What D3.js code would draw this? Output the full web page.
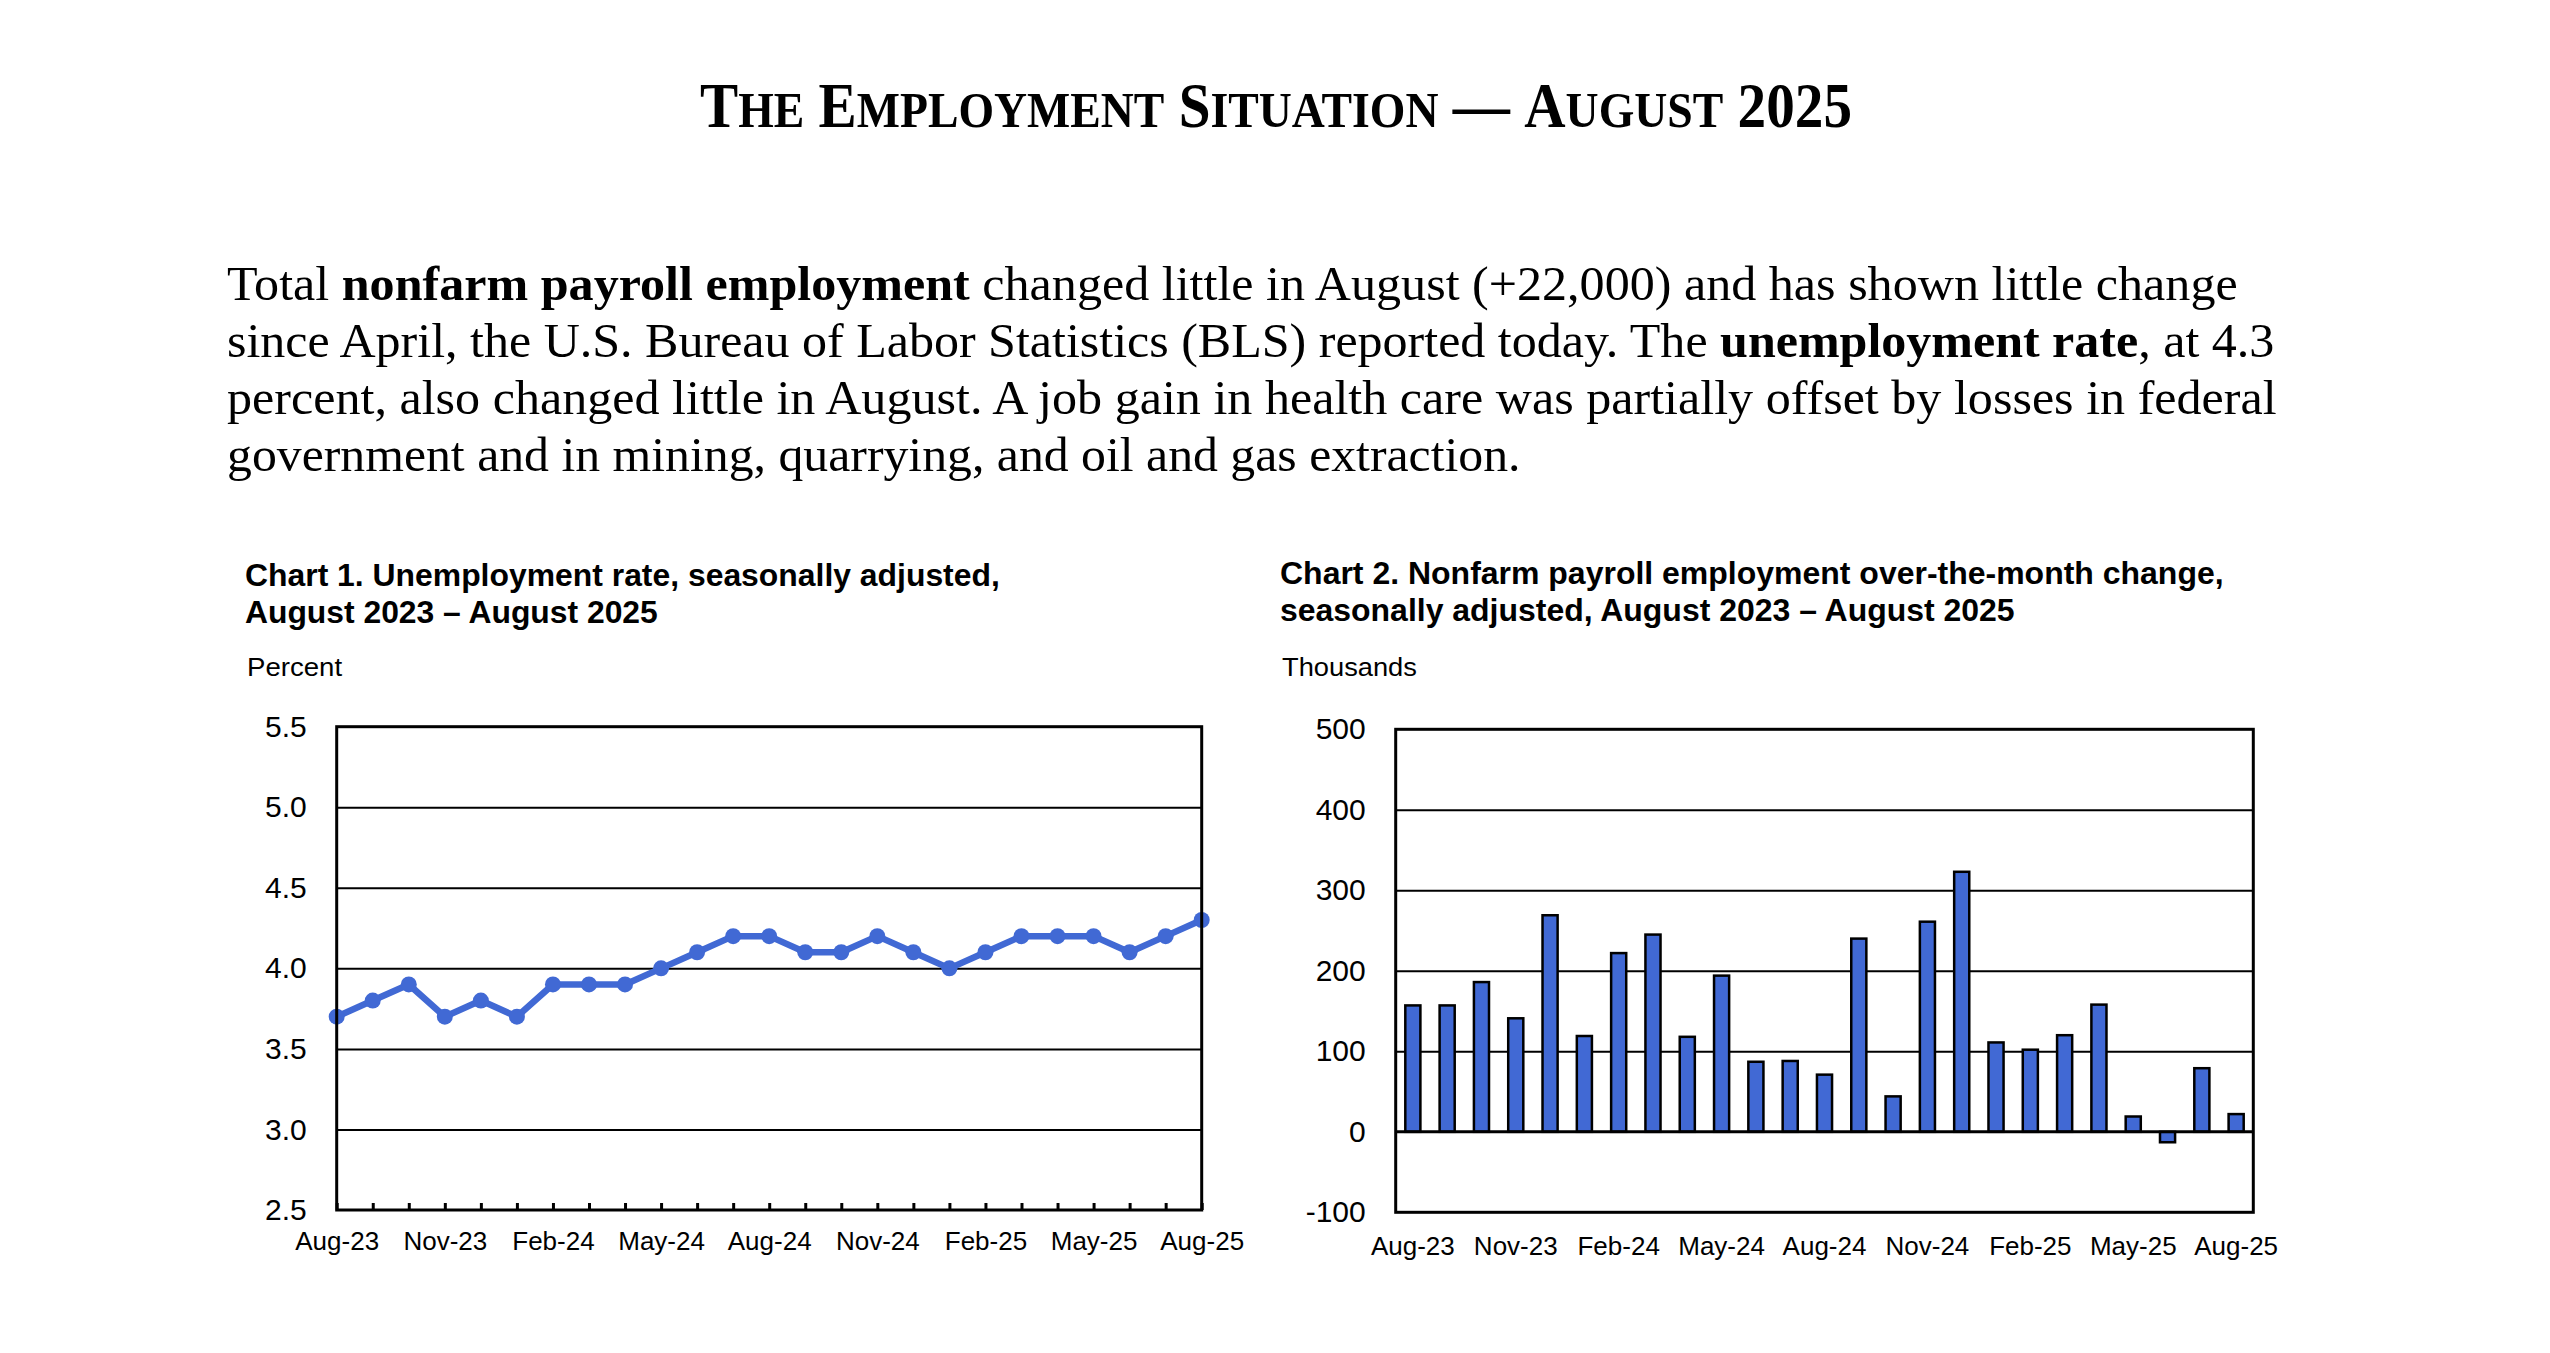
<!DOCTYPE html>
<html>
<head>
<meta charset="utf-8">
<script src="https://cdn.jsdelivr.net/npm/d3@7"></script>
<style>
  html, body { margin: 0; padding: 0; background: #fff; }
  svg { display: block; }
</style>
</head>
<body>
<script>
// ---------------- DATA ----------------
const months = ["Aug-23","Sep-23","Oct-23","Nov-23","Dec-23","Jan-24","Feb-24","Mar-24","Apr-24",
  "May-24","Jun-24","Jul-24","Aug-24","Sep-24","Oct-24","Nov-24","Dec-24","Jan-25","Feb-25",
  "Mar-25","Apr-25","May-25","Jun-25","Jul-25","Aug-25"];
const xTickLabels = ["Aug-23","Nov-23","Feb-24","May-24","Aug-24","Nov-24","Feb-25","May-25","Aug-25"];
const unemploymentRate = [3.7,3.8,3.9,3.7,3.8,3.7,3.9,3.9,3.9,4.0,4.1,4.2,4.2,4.1,4.1,4.2,4.1,4.0,4.1,4.2,4.2,4.2,4.1,4.2,4.3];
const payrollChange = [157,157,186,141,269,119,222,245,118,194,87,88,71,240,44,261,323,111,102,120,158,19,-13,79,22];
const rateTicks = [2.5,3.0,3.5,4.0,4.5,5.0,5.5];
const payrollTicks = [-100,0,100,200,300,400,500];

const pageTitle = "The Employment Situation — August 2025";
const paragraphLines = [
  [["Total ", false], ["nonfarm payroll employment", true], [" changed little in August (+22,000) and has shown little change", false]],
  [["since April, the U.S. Bureau of Labor Statistics (BLS) reported today. The ", false], ["unemployment rate", true], [", at 4.3", false]],
  [["percent, also changed little in August. A job gain in health care was partially offset by losses in federal", false]],
  [["government and in mining, quarrying, and oil and gas extraction.", false]]
];
const chart1Title = ["Chart 1. Unemployment rate, seasonally adjusted,", "August 2023 – August 2025"];
const chart2Title = ["Chart 2. Nonfarm payroll employment over-the-month change,", "seasonally adjusted, August 2023 – August 2025"];
const chart1Unit = "Percent";
const chart2Unit = "Thousands";

// ---------------- SETUP ----------------
const W = 2550, H = 1353;
const BLUE = "#4169d4";
const SANS = "Arial, 'Liberation Sans', sans-serif";
const SERIF = "'Liberation Serif', 'Times New Roman', serif";
const svg = d3.select("body").append("svg").attr("width", W).attr("height", H);
svg.append("rect").attr("width", W).attr("height", H).attr("fill", "#fff");

// helper: place text and scale horizontally to a target width
function fitText(g, x, y, targetW) {
  const w = g.node().getBBox().width;
  const sx = targetW ? targetW / w : 1;
  g.attr("transform", `translate(${x},${y}) scale(${sx},1)`);
}

// ---------------- TITLE (manual small caps) ----------------
const TITLE_FS = 64;
const title = svg.append("text")
  .attr("font-family", SERIF).attr("font-weight", "bold").attr("font-size", TITLE_FS);
pageTitle.split(" ").forEach((word, wi) => {
  if (wi > 0) title.append("tspan").attr("font-size", TITLE_FS).text(" ");
  const first = word[0], rest = word.slice(1);
  title.append("tspan").attr("font-size", TITLE_FS).text(first.toUpperCase());
  if (rest) {
    const isUpper = rest === rest.toUpperCase();
    title.append("tspan").attr("font-size", isUpper ? TITLE_FS : TITLE_FS * 0.8).text(rest.toUpperCase());
  }
});
fitText(title, 700, 127, 1149);

// ---------------- PARAGRAPH ----------------
const paraBaselines = [300, 357, 414, 471];
const paraWidths = [2011, 2048, 2050, 1294];
paragraphLines.forEach((line, i) => {
  const t = svg.append("text").attr("font-family", SERIF).attr("font-size", 49).attr("fill", "#000");
  line.forEach(([s, b]) => {
    t.append("tspan").attr("font-weight", b ? "bold" : "normal").text(s);
  });
  fitText(t, 227, paraBaselines[i], paraWidths[i]);
});

// ---------------- CHART HEADERS ----------------
function header(lines, x, baselines, widths, unit, unitY, unitW) {
  lines.forEach((s, i) => {
    const t = svg.append("text").attr("font-family", SANS)
      .attr("font-weight", "bold").attr("font-size", 32).text(s);
    fitText(t, x, baselines[i], widths[i]);
  });
  const u = svg.append("text").attr("font-family", SANS).attr("font-size", 26).text(unit);
  fitText(u, x + 2, unitY, unitW);
}
header(chart1Title, 245, [586, 623], [755, 413], chart1Unit, 676, 96);
header(chart2Title, 1280, [584, 621], [944, 735], chart2Unit, 676, 135);

// ---------------- CHART 1: LINE ----------------
(function () {
  const L = 336.7, R = 1201.7, T = 726.7, B = 1210;
  const x = d3.scalePoint().domain(months).range([L, R]);
  const y = d3.scaleLinear().domain([2.5, 5.5]).range([B, T]);
  const g = svg.append("g");

  g.append("g").attr("transform", `translate(${L},0)`)
    .call(d3.axisLeft(y).tickValues(rateTicks.slice(1, -1)).tickSize(-(R - L)).tickFormat(""))
    .call(s => s.select(".domain").remove())
    .call(s => s.selectAll("line").attr("stroke", "#000").attr("stroke-width", 2));

  g.append("g").attr("transform", `translate(${L},0)`)
    .call(d3.axisLeft(y).tickValues(rateTicks).tickSize(0).tickPadding(30).tickFormat(d3.format(".1f")))
    .call(s => s.select(".domain").remove())
    .call(s => s.selectAll("text").attr("font-size", 30).attr("font-family", SANS).attr("fill", "#000"));

  g.append("g").attr("transform", `translate(0,${B})`)
    .call(d3.axisBottom(x).tickValues(months).tickSize(-7).tickFormat(""))
    .call(s => s.select(".domain").remove())
    .call(s => s.selectAll("line").attr("stroke", "#000").attr("stroke-width", 3));

  g.append("g").attr("transform", `translate(0,${B})`)
    .call(d3.axisBottom(x).tickValues(xTickLabels).tickSize(0).tickPadding(22))
    .call(s => s.select(".domain").remove())
    .call(s => s.selectAll("text").attr("font-size", 26).attr("font-family", SANS).attr("fill", "#000"));

  const line = d3.line().x((d, i) => x(months[i])).y(d => y(d));
  g.append("path").datum(unemploymentRate).attr("d", line)
    .attr("fill", "none").attr("stroke", BLUE).attr("stroke-width", 6.5).attr("stroke-linejoin", "round");
  g.selectAll("circle.pt").data(unemploymentRate).join("circle").attr("class", "pt")
    .attr("cx", (d, i) => x(months[i])).attr("cy", d => y(d)).attr("r", 8).attr("fill", BLUE);

  g.append("rect").attr("x", L).attr("y", T).attr("width", R - L).attr("height", B - T)
    .attr("fill", "none").attr("stroke", "#000").attr("stroke-width", 3);
})();

// ---------------- CHART 2: BARS ----------------
(function () {
  const L = 1395.7, R = 2253.3, T = 729.3, B = 1212.3;
  const x = d3.scaleBand().domain(months).range([L, R]).paddingInner(0.56).paddingOuter(0.28);
  const y = d3.scaleLinear().domain([-100, 500]).range([B, T]);
  const g = svg.append("g");

  g.append("g").attr("transform", `translate(${L},0)`)
    .call(d3.axisLeft(y).tickValues(payrollTicks.filter(v => v !== -100 && v !== 500 && v !== 0)).tickSize(-(R - L)).tickFormat(""))
    .call(s => s.select(".domain").remove())
    .call(s => s.selectAll("line").attr("stroke", "#000").attr("stroke-width", 2));

  g.append("g").attr("transform", `translate(${L},0)`)
    .call(d3.axisLeft(y).tickValues(payrollTicks).tickSize(0).tickPadding(30).tickFormat(d => String(d)))
    .call(s => s.select(".domain").remove())
    .call(s => s.selectAll("text").attr("font-size", 30).attr("font-family", SANS).attr("fill", "#000"));

  g.append("g").attr("transform", `translate(0,${B})`)
    .call(d3.axisBottom(x).tickValues(xTickLabels).tickSize(0).tickPadding(24))
    .call(s => s.select(".domain").remove())
    .call(s => s.selectAll("text").attr("font-size", 26).attr("font-family", SANS).attr("fill", "#000"));

  g.selectAll("rect.bar").data(payrollChange).join("rect").attr("class", "bar")
    .attr("x", (d, i) => x(months[i]))
    .attr("width", x.bandwidth())
    .attr("y", d => y(Math.max(0, d)))
    .attr("height", d => Math.abs(y(d) - y(0)))
    .attr("fill", BLUE).attr("stroke", "#000").attr("stroke-width", 2.5);

  g.append("line").attr("x1", L).attr("x2", R).attr("y1", y(0)).attr("y2", y(0))
    .attr("stroke", "#000").attr("stroke-width", 3);

  g.append("rect").attr("x", L).attr("y", T).attr("width", R - L).attr("height", B - T)
    .attr("fill", "none").attr("stroke", "#000").attr("stroke-width", 3);
})();
</script>
</body>
</html>
